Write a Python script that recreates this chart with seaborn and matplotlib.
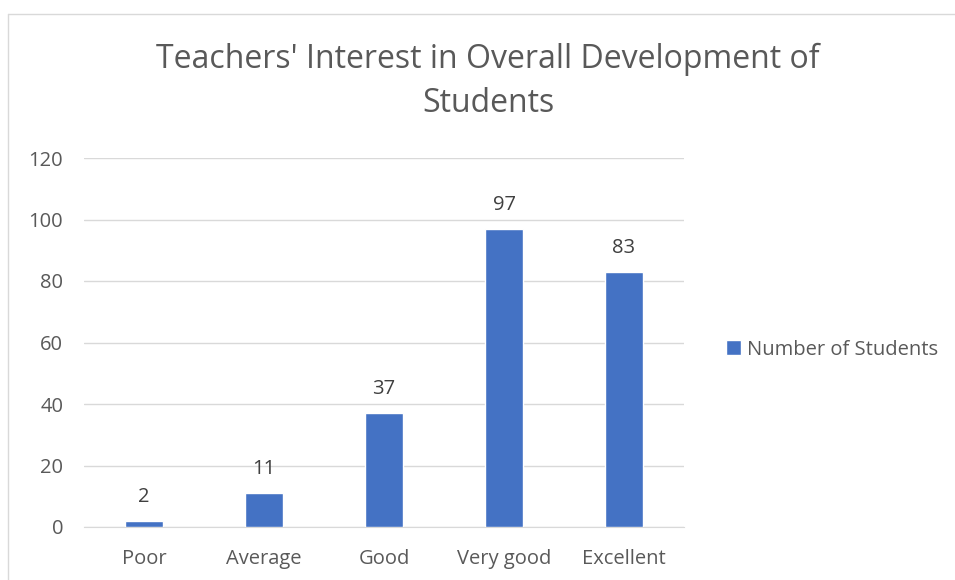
import pandas as pd
import matplotlib.pyplot as plt
import matplotlib.lines as mlines
import seaborn as sns

# data
categories = ['Poor', 'Average', 'Good', 'Very good', 'Excellent']
students = [2, 11, 37, 97, 83]
series_name = 'Number of Students'
yticks = [0, 20, 40, 60, 80, 100, 120]

df = pd.DataFrame({'Rating': categories, series_name: students})

sns.set_style('white')
plt.rcParams['font.family'] = ['Open Sans', 'DejaVu Sans']

text_col = '#595959'
bar_col = '#4472C4'
fs = 14.5

fig = plt.figure(figsize=(9.55, 5.8), dpi=100)
ax = fig.add_axes([84 / 955, 1 - 527 / 580, 600 / 955, 369 / 580])

sns.barplot(data=df, x='Rating', y=series_name, color=bar_col, width=0.32,
            saturation=1, ax=ax, zorder=3, label=series_name)

ax.set_ylim(0, 120)
ax.set_xlim(-0.5, len(categories) - 0.5)
ax.set_yticks(yticks)
ax.yaxis.grid(True, color='#d9d9d9', lw=1, zorder=0)
ax.set_axisbelow(True)
for s in ['top', 'right', 'left']:
    ax.spines[s].set_visible(False)
ax.spines['bottom'].set_color('#d9d9d9')
ax.tick_params(axis='both', length=0, labelsize=fs, colors=text_col)
ax.tick_params(axis='y', pad=15)
ax.tick_params(axis='x', pad=16)
ax.set_xlabel('')
ax.set_ylabel('')

for c in ax.containers:
    ax.bar_label(c, padding=10, fontsize=fs, color='#404040')

leg = ax.legend(loc='center left', bbox_to_anchor=(1.04, 0.48), frameon=False,
                fontsize=fs, handlelength=0.75, handleheight=0.75,
                handletextpad=0.3, labelcolor=text_col)

fig.text(0.511, 0.86, "Teachers' Interest in Overall Development of\nStudents",
         ha='center', va='center', fontsize=23, color=text_col, linespacing=1.45)

# chart border (top and left edges visible)
fig.add_artist(mlines.Line2D([8 / 955, 1], [1 - 14 / 580, 1 - 14 / 580],
                             transform=fig.transFigure, color='#d9d9d9', lw=1))
fig.add_artist(mlines.Line2D([8 / 955, 8 / 955], [0, 1 - 14 / 580],
                             transform=fig.transFigure, color='#d9d9d9', lw=1))

fig.savefig('out.png', dpi=100, facecolor='white')
